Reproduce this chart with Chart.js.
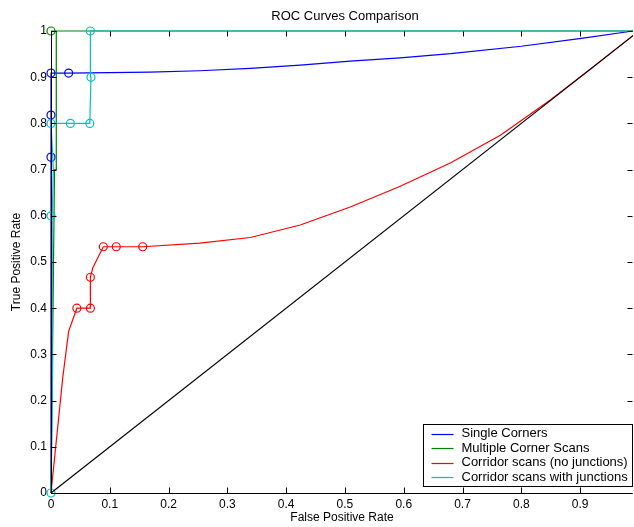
<!DOCTYPE html>
<html lang="en">
<head>
    <meta charset="UTF-8">
    <title>ROC Curves Comparison</title>
    <style>
        body {
            margin: 0;
            padding: 0;
            background: #fff;
        }
        #chartBox {
            width: 634px;
            height: 527px;
        }
    </style>
    <script src="https://cdn.jsdelivr.net/npm/chart.js"></script>
</head>
<body>

    <div id="chartBox">
        <canvas id="rocChart" width="634" height="527"></canvas>
    </div>

    <script>
        // axis ticks
        const xTicks = [0, 0.1, 0.2, 0.3, 0.4, 0.5, 0.6, 0.7, 0.8, 0.9];
        const xTickLabels = ['0', '0.1', '0.2', '0.3', '0.4', '0.5', '0.6', '0.7', '0.8', '0.9'];
        const yTicks = [0, 0.1, 0.2, 0.3, 0.4, 0.5, 0.6, 0.7, 0.8, 0.9, 1];
        const yTickLabels = ['0', '0.1', '0.2', '0.3', '0.4', '0.5', '0.6', '0.7', '0.8', '0.9', '1'];

        const seriesNames = ['Single Corners', 'Multiple Corner Scans', 'Corridor scans (no junctions)', 'Corridor scans with junctions'];
        const seriesColors = ['#0000ff', '#008000', '#ff0000', '#00bfbf'];

        // Single Corners
        const singleX = [0, 0, 0, 0, 0.03, 0.168, 0.253, 0.339, 0.424, 0.509, 0.594, 0.68, 0.8, 0.902, 0.99];
        const singleY = [0, 0.727, 0.818, 0.909, 0.909, 0.911, 0.914, 0.919, 0.926, 0.935, 0.942, 0.951, 0.967, 0.984, 1];
        const singleMarkX = [0, 0, 0, 0.03];
        const singleMarkY = [0.727, 0.818, 0.909, 0.909];

        // Multiple Corner Scans
        const multiX = [0, 0.006, 0.009, 0.009, 0, 0.99];
        const multiY = [0, 0.7, 0.7, 1, 1, 1];
        const multiMarkX = [0];
        const multiMarkY = [1];

        // Corridor scans (no junctions)
        const corrX = [0, 0.02, 0.03, 0.044, 0.067, 0.067, 0.071, 0.089, 0.111, 0.156, 0.253, 0.339, 0.424, 0.509, 0.594, 0.68, 0.765, 0.85, 0.92, 0.99];
        const corrY = [0, 0.25, 0.35, 0.4, 0.4, 0.467, 0.487, 0.533, 0.533, 0.533, 0.541, 0.553, 0.58, 0.619, 0.664, 0.715, 0.775, 0.851, 0.92, 0.99];
        const corrMarkX = [0.044, 0.067, 0.067, 0.089, 0.111, 0.156];
        const corrMarkY = [0.4, 0.4, 0.467, 0.533, 0.533, 0.533];

        // Corridor scans with junctions
        const juncX = [0, 0.003, 0.002, 0.004, 0, 0.033, 0.066, 0.068, 0.067, 0.99];
        const juncY = [0, 0.3, 0.6, 0.7, 0.8, 0.8, 0.8, 0.9, 1, 1];
        const juncMarkX = [0, 0, 0, 0.033, 0.066, 0.068, 0.067];
        const juncMarkY = [0, 0.6, 0.8, 0.8, 0.8, 0.9, 1];

        // chance diagonal
        const diagX = [0, 0.99];
        const diagY = [0, 0.99];

        const FONT = '"Liberation Sans", Arial, sans-serif';

        function pts(xs, ys) {
            return xs.map((x, i) => ({ x: x, y: ys[i] }));
        }

        function lineSet(label, xs, ys, color, order) {
            return {
                label: label,
                data: pts(xs, ys),
                showLine: true,
                borderColor: color,
                backgroundColor: color,
                borderWidth: 1.2,
                pointRadius: 0,
                tension: 0,
                clip: false,
                order: order
            };
        }

        function markSet(xs, ys, color, order) {
            return {
                label: '',
                data: pts(xs, ys),
                showLine: false,
                borderColor: color,
                backgroundColor: 'rgba(0,0,0,0)',
                pointRadius: 4,
                pointBorderWidth: 1.2,
                pointHoverRadius: 4,
                clip: false,
                order: order
            };
        }

        // frame, inward ticks, title and legend, MATLAB style
        const matlabFrame = {
            id: 'matlabFrame',
            afterDatasetsDraw(chart) {
                const ctx = chart.ctx;
                const a = chart.chartArea;
                const x = chart.scales.x;
                const y = chart.scales.y;
                const L = Math.round(a.left) + 0.5;
                const R = Math.round(a.right) - 0.5;
                const T = Math.round(a.top) + 0.5;
                const B = Math.round(a.bottom) + 0.5;
                ctx.save();
                ctx.strokeStyle = '#000';
                ctx.lineWidth = 1;
                ctx.beginPath();
                ctx.moveTo(L, T); ctx.lineTo(L, B); ctx.lineTo(R, B);
                ctx.stroke();
                ctx.beginPath();
                xTicks.forEach(v => {
                    const px = Math.round(x.getPixelForValue(v)) + 0.5;
                    ctx.moveTo(px, B); ctx.lineTo(px, B - 6);
                    ctx.moveTo(px, T); ctx.lineTo(px, T + 5);
                });
                yTicks.forEach(v => {
                    const py = Math.round(y.getPixelForValue(v)) + 0.5;
                    ctx.moveTo(L, py); ctx.lineTo(L + 5, py);
                    ctx.moveTo(R, py); ctx.lineTo(R - 5, py);
                });
                ctx.stroke();
                ctx.restore();
            },
            afterDraw(chart) {
                const ctx = chart.ctx;
                const a = chart.chartArea;
                ctx.save();
                ctx.font = '13px ' + FONT;
                ctx.fillStyle = '#000';
                ctx.textAlign = 'center';
                ctx.textBaseline = 'middle';
                ctx.fillText('ROC Curves Comparison', (a.left + a.right) / 2 + 3, 16);

                // legend box in the lower right corner
                const rowH = 14.6;
                let maxW = 0;
                seriesNames.forEach(n => { maxW = Math.max(maxW, ctx.measureText(n).width); });
                const boxW = Math.round(38 + maxW + 5);
                const boxH = Math.round(rowH * seriesNames.length + 4);
                const bx = Math.round(a.right) - 1 - boxW + 0.5;
                const by = Math.round(a.bottom) - 7 - boxH + 0.5;
                ctx.fillStyle = '#fff';
                ctx.fillRect(bx, by, boxW, boxH);
                ctx.strokeStyle = '#000';
                ctx.lineWidth = 1;
                ctx.strokeRect(bx, by, boxW, boxH);
                ctx.textAlign = 'left';
                ctx.lineWidth = 1.2;
                seriesNames.forEach((n, i) => {
                    const cy = by + 9 + i * rowH;
                    ctx.strokeStyle = seriesColors[i];
                    ctx.beginPath();
                    ctx.moveTo(bx + 8, Math.round(cy) + 0.5);
                    ctx.lineTo(bx + 30, Math.round(cy) + 0.5);
                    ctx.stroke();
                    ctx.fillStyle = '#000';
                    ctx.fillText(n, bx + 38, cy);
                });
                ctx.restore();
            }
        };

        const ctx = document.getElementById('rocChart').getContext('2d');
        const rocChart = new Chart(ctx, {
            type: 'scatter',
            data: {
                datasets: [
                    lineSet(seriesNames[0], singleX, singleY, seriesColors[0], 10),
                    markSet(singleMarkX, singleMarkY, seriesColors[0], 9),
                    lineSet(seriesNames[1], multiX, multiY, seriesColors[1], 8),
                    markSet(multiMarkX, multiMarkY, seriesColors[1], 7),
                    lineSet(seriesNames[2], corrX, corrY, seriesColors[2], 6),
                    markSet(corrMarkX, corrMarkY, seriesColors[2], 5),
                    lineSet(seriesNames[3], juncX, juncY, seriesColors[3], 4),
                    markSet(juncMarkX, juncMarkY, seriesColors[3], 3),
                    lineSet('', diagX, diagY, '#000000', 2)
                ]
            },
            options: {
                responsive: false,
                animation: false,
                events: [],
                layout: {
                    autoPadding: false,
                    padding: { top: 31, right: 1, left: 0, bottom: 0 }
                },
                plugins: {
                    legend: { display: false },
                    title: { display: false },
                    tooltip: { enabled: false }
                },
                scales: {
                    x: {
                        type: 'linear',
                        min: 0,
                        max: 0.99,
                        grid: { display: false, drawTicks: false },
                        border: { display: false },
                        afterBuildTicks: scale => { scale.ticks = xTicks.map(v => ({ value: v })); },
                        afterFit: scale => {
                            scale.height = 34;
                            scale.paddingLeft = 0;
                            scale.paddingRight = 0;
                        },
                        ticks: {
                            autoSkip: false,
                            maxRotation: 0,
                            padding: 4,
                            color: '#000',
                            font: { family: FONT, size: 12 },
                            callback: (v, i) => xTickLabels[i]
                        },
                        title: {
                            display: true,
                            text: 'False Positive Rate',
                            color: '#000',
                            font: { family: FONT, size: 12 },
                            padding: { top: 0, bottom: 2 }
                        }
                    },
                    y: {
                        type: 'linear',
                        min: 0,
                        max: 1,
                        grid: { display: false, drawTicks: false },
                        border: { display: false },
                        afterBuildTicks: scale => { scale.ticks = yTicks.map(v => ({ value: v })); },
                        afterFit: scale => {
                            scale.width = 51;
                            scale.paddingTop = 0;
                            scale.paddingBottom = 0;
                        },
                        ticks: {
                            autoSkip: false,
                            padding: 4,
                            color: '#000',
                            font: { family: FONT, size: 12 },
                            callback: (v, i) => yTickLabels[i]
                        },
                        title: {
                            display: true,
                            text: 'True Positive Rate',
                            color: '#000',
                            font: { family: FONT, size: 12 },
                            padding: { top: 9, bottom: 0 }
                        }
                    }
                }
            },
            plugins: [matlabFrame]
        });
    </script>
</body>
</html>
